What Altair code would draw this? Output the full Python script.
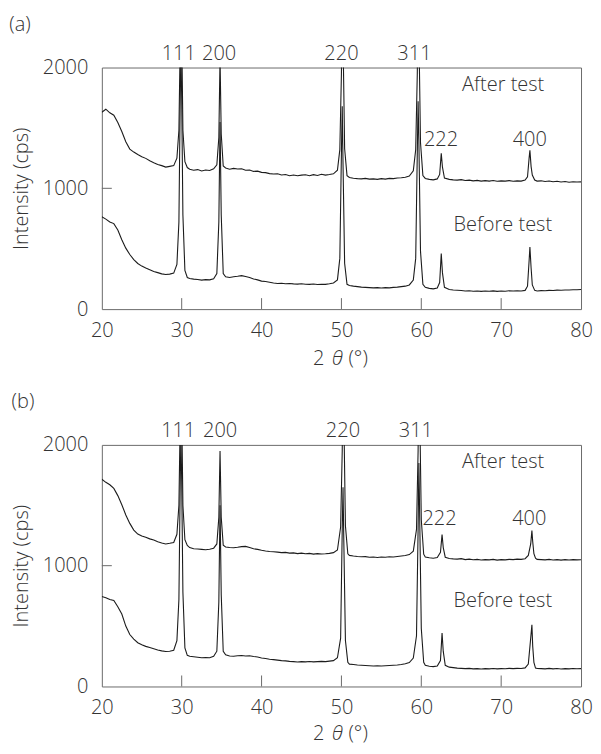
import altair as alt
import pandas as pd

# ---------------- data ----------------
axis_ticks_x = [20, 30, 40, 50, 60, 70, 80]
axis_ticks_y = [0, 1000, 2000]
inner_ticks_x = [30, 40, 50, 60, 70]
inner_ticks_y = [1000]

# panel (a) 2theta grid
a_x = [20.0, 20.5, 21.0, 21.5, 22.0, 22.5, 23.0, 23.5, 24.0, 24.5, 25.0, 25.5, 26.0, 26.5, 27.0, 27.5, 28.0, 28.5, 29.0,
       29.4, 29.65, 29.8, 29.9, 30.0, 30.15, 30.4, 30.7,
       31.0, 31.5, 32.0, 32.5, 33.0, 33.5, 34.0,
       34.4, 34.65, 34.8, 34.95, 35.2,
       35.5, 36.0, 36.5, 37.0, 37.5, 38.0, 38.5, 39.0, 39.5, 40.0, 40.5, 41.0, 41.5, 42.0, 42.5, 43.0, 43.5, 44.0, 44.5, 45.0,
       45.5, 46.0, 46.5, 47.0, 47.5, 48.0, 48.5, 49.0, 49.5,
       49.8, 50.0, 50.1, 50.2, 50.4, 50.7,
       51.0, 51.5, 52.0, 52.5, 53.0, 53.5, 54.0, 54.5, 55.0, 55.5, 56.0, 56.5, 57.0, 57.5, 58.0, 58.5, 59.0,
       59.3, 59.5, 59.6, 59.7, 59.9, 60.2,
       60.5, 61.0, 61.5, 62.0,
       62.3, 62.5, 62.65, 62.9,
       63.5, 64.0, 64.5, 65.0, 65.5, 66.0, 66.5, 67.0, 67.5, 68.0, 68.5, 69.0, 69.5, 70.0, 70.5, 71.0, 71.5, 72.0, 72.5, 73.0,
       73.3, 73.5, 73.6, 73.75, 73.9, 74.2,
       74.5, 75.0, 75.5, 76.0, 76.5, 77.0, 77.5, 78.0, 78.5, 79.0, 79.5, 80.0]

a_after = [1630, 1655, 1625, 1605, 1545, 1470, 1385, 1325, 1300, 1280, 1262, 1248, 1228, 1212, 1198, 1188, 1176, 1182, 1188,
           1250, 1480, 2150, 2600, 2300, 1480, 1220, 1172,
           1158, 1150, 1155, 1143, 1152, 1148, 1162,
           1195, 1420, 2080, 1450, 1185,
           1168, 1158, 1165, 1160, 1162, 1150, 1152, 1140, 1142, 1132, 1130, 1122, 1118, 1120, 1110, 1114, 1104, 1110, 1104, 1109,
           1112, 1104, 1113, 1106, 1116, 1109, 1114, 1120, 1150,
           1320, 1950, 2600, 2250, 1330, 1105,
           1090, 1084, 1080, 1078, 1082, 1076, 1078, 1074, 1080, 1076, 1082, 1080, 1085, 1088, 1092, 1102, 1145,
           1320, 1950, 2600, 2300, 1380, 1105,
           1082, 1074, 1070, 1078,
           1115, 1290, 1175, 1085,
           1074, 1070, 1068, 1072, 1065, 1068, 1062, 1066, 1060, 1064, 1060, 1065, 1058, 1062, 1060, 1064, 1058, 1062, 1060, 1068,
           1095, 1250, 1315, 1180, 1110, 1068,
           1060, 1062, 1056, 1060, 1054, 1058, 1052, 1056, 1050, 1055, 1052, 1053]

a_before = [765, 745, 722, 708, 655, 575, 505, 452, 410, 378, 356, 340, 326, 312, 302, 292, 286, 290, 298,
            370, 720, 1650, 2150, 1750, 780, 320, 262,
            254, 248, 245, 240, 244, 242, 252,
            295, 720, 1550, 780, 295,
            268, 262, 268, 272, 277, 270, 262, 250, 242, 232, 228, 222, 216, 212, 214, 210, 212, 209, 207, 210,
            206, 205, 208, 204, 206, 205, 210, 216, 242,
            420, 1300, 1680, 1200, 380, 205,
            195, 190, 186, 182, 180, 178, 176, 178, 175, 178, 176, 180, 182, 186, 190, 200, 240,
            420, 1300, 1720, 1380, 480, 205,
            180, 172, 168, 175,
            220, 460, 300, 180,
            162, 158, 156, 154, 150, 152, 148, 150, 147, 150, 148, 151, 147, 150, 148, 152, 150, 151, 150, 155,
            190, 400, 515, 340, 200, 155,
            150, 153, 152, 155, 154, 157, 156, 158, 158, 160, 160, 162]

# panel (b) 2theta grid
b_x = [20.0, 20.5, 21.0, 21.5, 22.0, 22.5, 23.0, 23.5, 24.0, 24.5, 25.0, 25.5, 26.0, 26.5, 27.0, 27.5, 28.0, 28.5, 29.0,
       29.4, 29.65, 29.8, 29.9, 30.0, 30.15, 30.4, 30.7,
       31.0, 31.5, 32.0, 32.5, 33.0, 33.5, 34.0,
       34.4, 34.65, 34.8, 34.95, 35.2,
       35.5, 36.0, 36.5, 37.0, 37.5, 38.0, 38.5, 39.0, 39.5, 40.0, 40.5, 41.0, 41.5, 42.0, 42.5, 43.0, 43.5, 44.0, 44.5, 45.0,
       45.5, 46.0, 46.5, 47.0, 47.5, 48.0, 48.5, 49.0, 49.5,
       49.9, 50.1, 50.2, 50.3, 50.5, 50.8,
       51.0, 51.5, 52.0, 52.5, 53.0, 53.5, 54.0, 54.5, 55.0, 55.5, 56.0, 56.5, 57.0, 57.5, 58.0, 58.5, 59.0,
       59.4, 59.6, 59.7, 59.8, 60.0, 60.3,
       60.5, 61.0, 61.5, 62.0,
       62.4, 62.6, 62.75, 63.0,
       63.5, 64.0, 64.5, 65.0, 65.5, 66.0, 66.5, 67.0, 67.5, 68.0, 68.5, 69.0, 69.5, 70.0, 70.5, 71.0, 71.5, 72.0, 72.5, 73.0,
       73.4, 73.7, 73.85, 73.95, 74.1, 74.3,
       74.5, 75.0, 75.5, 76.0, 76.5, 77.0, 77.5, 78.0, 78.5, 79.0, 79.5, 80.0]

b_after = [1715, 1690, 1670, 1640, 1580, 1505, 1420, 1350, 1295, 1262, 1245, 1235, 1222, 1212, 1198, 1188, 1180, 1185, 1192,
           1260, 1500, 2150, 2600, 2300, 1500, 1215, 1168,
           1150, 1140, 1138, 1135, 1132, 1136, 1145,
           1180, 1400, 1950, 1400, 1170,
           1155, 1150, 1148, 1152, 1158, 1160, 1150, 1140, 1135, 1128, 1122, 1118, 1115, 1112, 1108, 1110, 1104, 1106, 1100, 1104,
           1099, 1102, 1096, 1100, 1097, 1099, 1102, 1108, 1130,
           1320, 1950, 2600, 2250, 1330, 1098,
           1085, 1080, 1076, 1074, 1075, 1070, 1072, 1068, 1072, 1070, 1074, 1072, 1076, 1080, 1084, 1092, 1120,
           1300, 1950, 2600, 2300, 1380, 1095,
           1072, 1066, 1062, 1068,
           1110, 1257, 1150, 1070,
           1060, 1056, 1054, 1058, 1050, 1054, 1049, 1052, 1047, 1050, 1048, 1052, 1046, 1050, 1048, 1052, 1050, 1054, 1052, 1058,
           1085, 1180, 1290, 1200, 1100, 1062,
           1052, 1050, 1048, 1052, 1047, 1050, 1046, 1050, 1047, 1050, 1048, 1049]

b_before = [745, 735, 720, 712, 660, 600, 500, 430, 392, 362, 345, 332, 322, 312, 302, 295, 290, 292, 300,
            380, 720, 1600, 2100, 1700, 780, 320, 258,
            250, 246, 242, 238, 240, 238, 250,
            292, 700, 1500, 760, 290,
            262, 252, 250, 254, 256, 252, 254, 248, 244, 236, 232, 226, 222, 218, 214, 212, 208, 206, 202, 206,
            204, 207, 204, 206, 208, 206, 210, 214, 238,
            400, 1300, 1650, 1200, 380, 200,
            185, 182, 178, 176, 174, 172, 170, 172, 170, 172, 174, 176, 178, 182, 188, 198, 235,
            420, 1300, 1850, 1400, 480, 200,
            176, 168, 164, 170,
            215, 443, 290, 175,
            160, 156, 152, 150, 148, 150, 146, 148, 145, 148, 146, 149, 146, 148, 147, 150, 148, 150, 149, 154,
            185, 400, 511, 334, 200, 152,
            150, 148, 146, 150, 146, 149, 145, 148, 146, 149, 147, 148]

peak_labels = ["111", "200", "220", "311", "222", "400"]
a_label_x = [29.63, 34.69, 50.0, 59.14, 62.47, 73.58]
a_label_y = [2115, 2115, 2115, 2115, 1400, 1400]
b_label_x = [29.57, 34.81, 50.19, 59.32, 62.28, 73.52]
b_label_y = [2115, 2115, 2115, 2115, 1389, 1389]

series_names = ["After test", "Before test"]
series_label_x = [70.25, 70.2]
a_series_label_y = [1852, 700]
b_series_label_y = [1856, 704]

# ---------------- styling ----------------
W, H = 480, 242
FONT = "Open Sans"
TXT = "#333333"
FRAME = "#6a6a6a"
LINE = "#1c1c1c"
FS = 20
FW = 300

xscale = alt.Scale(domain=[20, 80], nice=False, zero=False)
yscale = alt.Scale(domain=[0, 2000], nice=False, zero=False)

x_axis = alt.Axis(values=axis_ticks_x, format="d", title=None, labelPadding=11,
                  labelFlush=False, ticks=False, tickSize=0, domain=False, grid=False)
y_axis = alt.Axis(values=axis_ticks_y, format="d", title="Intensity (cps)", labelPadding=14,
                  labelFlush=False, ticks=False, tickSize=0, domain=False, grid=False,
                  titleX=-80, titleY=H / 2, titleAngle=270, titleAlign="center",
                  titleBaseline="middle")
X = alt.X("two_theta:Q", scale=xscale, axis=x_axis)
Y = alt.Y("intensity:Q", scale=yscale, axis=y_axis)


def txt(**kw):
    base = dict(font=FONT, fontSize=FS, fontWeight=FW, color=TXT, align="center", baseline="middle")
    base.update(kw)
    return base


def panel(xs, after, before, tag, tag_x, tag_y, lab_x, lab_y, ser_y, title_dy):
    n = len(xs)
    assert len(after) == n and len(before) == n, (len(xs), len(after), len(before))
    df = pd.DataFrame({
        "two_theta": xs + xs,
        "intensity": after + before,
        "series": ["After test"] * n + ["Before test"] * n,
    })
    lines = alt.Chart(df).mark_line(clip=True, color=LINE, strokeWidth=1.1).encode(
        x=X, y=Y, detail="series:N")
    xt = alt.Chart(pd.DataFrame({"two_theta": inner_ticks_x})).mark_rule(color=FRAME, strokeWidth=1).encode(
        x=X, y=alt.value(H), y2=alt.value(H - 11))
    yt = alt.Chart(pd.DataFrame({"intensity": inner_ticks_y})).mark_rule(color=FRAME, strokeWidth=1).encode(
        y=Y, x=alt.value(0), x2=alt.value(10))
    plab = alt.Chart(pd.DataFrame({"two_theta": lab_x, "intensity": lab_y, "label": peak_labels})).mark_text(
        **txt()).encode(x=X, y=Y, text="label:N")
    slab = alt.Chart(pd.DataFrame({"two_theta": series_label_x, "intensity": ser_y, "label": series_names})).mark_text(
        **txt()).encode(x=X, y=Y, text="label:N")
    tg = alt.Chart(pd.DataFrame({"label": [tag]})).mark_text(**txt()).encode(
        x=alt.value(tag_x), y=alt.value(tag_y), text="label:N")
    cx = W / 2
    ty = H + title_dy
    t1 = alt.Chart(pd.DataFrame({"label": ["2"]})).mark_text(**txt(align="right")).encode(
        x=alt.value(cx - 17), y=alt.value(ty), text="label:N")
    t2 = alt.Chart(pd.DataFrame({"label": ["θ"]})).mark_text(**txt(fontStyle="italic")).encode(
        x=alt.value(cx - 4), y=alt.value(ty), text="label:N")
    t3 = alt.Chart(pd.DataFrame({"label": ["(°)"]})).mark_text(**txt(align="left")).encode(
        x=alt.value(cx + 7), y=alt.value(ty), text="label:N")
    return alt.layer(lines, xt, yt, plab, slab, tg, t1, t2, t3).properties(width=W, height=H)


pa = panel(a_x, a_after, a_before, "(a)", -82, -43, a_label_x, a_label_y, a_series_label_y, 50)
pb = panel(b_x, b_after, b_before, "(b)", -79, -43, b_label_x, b_label_y, b_series_label_y, 48)

chart = alt.vconcat(pa, pb, spacing=136, bounds="flush").properties(
    padding={"left": 0, "top": 5, "right": 0, "bottom": 0}
).configure_axis(
    labelFont=FONT, labelFontSize=FS, labelFontWeight=FW, labelColor=TXT,
    titleFont=FONT, titleFontSize=FS, titleFontWeight=FW, titleColor=TXT,
).configure_view(stroke=FRAME, strokeWidth=1)

chart.save("out.html", embed_options={"renderer": "svg", "actions": False})
